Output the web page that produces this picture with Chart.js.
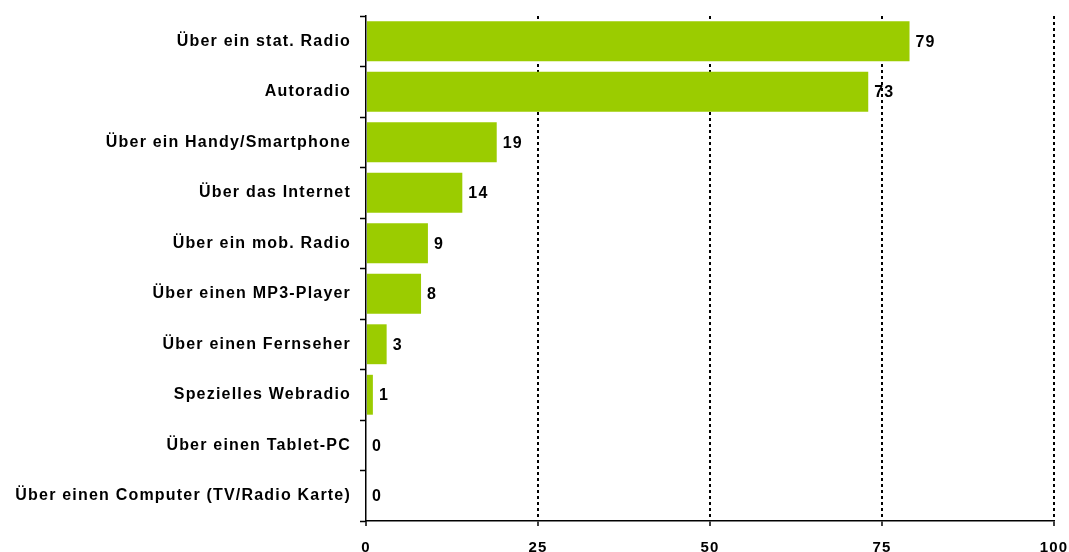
<!DOCTYPE html>
<html>
<head>
<meta charset="utf-8">
<script src="https://cdn.jsdelivr.net/npm/chart.js@4.4.1/dist/chart.umd.min.js"></script>
<style>
  html, body { margin: 0; padding: 0; background: #fff; }
  #wrap { width: 1069px; height: 552px; }
</style>
</head>
<body>
<div id="wrap"><canvas id="myChart"></canvas></div>
<script>
const categories = [
    "Über ein stat. Radio",
    "Autoradio",
    "Über ein Handy/Smartphone",
    "Über das Internet",
    "Über ein mob. Radio",
    "Über einen MP3-Player",
    "Über einen Fernseher",
    "Spezielles Webradio",
    "Über einen Tablet-PC",
    "Über einen Computer (TV/Radio Karte)"
];
const values = [79, 73, 19, 14, 9, 8, 3, 1, 0, 0];
const xTicks = [0, 25, 50, 75, 100];

const FONT = '"Liberation Sans", Arial, sans-serif';

// the original text is a bit wider, spread letters a little
const wideText = {
    id: 'wideText',
    beforeLayout(chart) { chart.ctx.letterSpacing = '1.2px'; },
    beforeDraw(chart) { chart.ctx.letterSpacing = '1.2px'; }
};

// writes the number next to each bar
const barLabels = {
    id: 'barLabels',
    afterDatasetsDraw(chart) {
        const ctx = chart.ctx;
        const meta = chart.getDatasetMeta(0);
        ctx.save();
        ctx.font = 'bold 16px ' + FONT;
        ctx.fillStyle = '#000';
        ctx.textAlign = 'left';
        ctx.textBaseline = 'middle';
        meta.data.forEach((bar, i) => {
            ctx.fillText(String(values[i]), bar.x + 6, bar.y + 1);
        });
        ctx.restore();
    }
};

const ctx = document.getElementById('myChart').getContext('2d');
const myChart = new Chart(ctx, {
    type: 'bar',
    data: {
        labels: categories,
        datasets: [{
            data: values,
            backgroundColor: '#9bcc00',
            borderWidth: 0,
            barPercentage: 0.79,
            categoryPercentage: 1
        }]
    },
    options: {
        indexAxis: 'y',
        responsive: true,
        maintainAspectRatio: false,
        animation: false,
        layout: { padding: { top: 16, right: 15, left: 0, bottom: 0 } },
        plugins: {
            legend: { display: false },
            tooltip: { enabled: false }
        },
        scales: {
            x: {
                min: 0,
                max: 100,
                afterBuildTicks: (scale) => {
                    scale.ticks = xTicks.map(v => ({ value: v }));
                },
                afterFit: (scale) => {
                    scale.height = 31;
                    scale.paddingLeft = 0;
                    scale.paddingRight = 0;
                },
                grid: {
                    color: (c) => c.tick && c.tick.value === 0 ? 'rgba(0,0,0,0)' : '#000',
                    lineWidth: 2,
                    tickColor: '#000',
                    tickWidth: 1.5,
                    tickLength: 5,
                    tickBorderDash: []
                },
                border: { display: true, color: '#000', width: 1.5, dash: [3, 3] },
                ticks: {
                    color: '#000',
                    padding: 13,
                    font: { family: FONT, size: 15, weight: 'bold' }
                }
            },
            y: {
                afterFit: (scale) => {
                    scale.width = 366;
                    scale.paddingTop = 0;
                    scale.paddingBottom = 0;
                },
                grid: {
                    drawOnChartArea: false,
                    drawTicks: true,
                    tickLength: 6,
                    color: '#000',
                    tickWidth: 1.5,
                    offset: true
                },
                border: { display: true, color: '#000', width: 1.5 },
                ticks: {
                    color: '#000',
                    padding: 9,
                    font: { family: FONT, size: 16, weight: 'bold' }
                }
            }
        }
    },
    plugins: [wideText, barLabels]
});
</script>
</body>
</html>
